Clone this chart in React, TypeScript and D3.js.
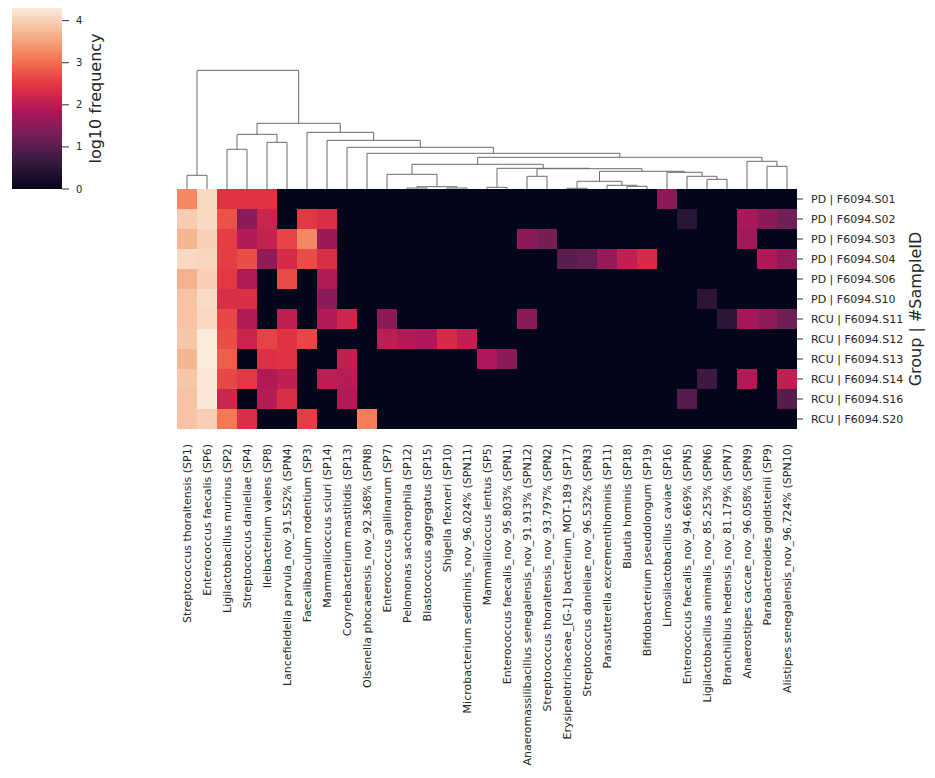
import React from "react";
import * as d3 from "d3";

const rowLabels = [
  "PD | F6094.S01",
  "PD | F6094.S02",
  "PD | F6094.S03",
  "PD | F6094.S04",
  "PD | F6094.S06",
  "PD | F6094.S10",
  "RCU | F6094.S11",
  "RCU | F6094.S12",
  "RCU | F6094.S13",
  "RCU | F6094.S14",
  "RCU | F6094.S16",
  "RCU | F6094.S20",
];

const colLabels = [
  "Streptococcus thoraltensis (SP1)",
  "Enterococcus faecalis (SP6)",
  "Ligilactobacillus murinus (SP2)",
  "Streptococcus danieliae (SP4)",
  "Ileibacterium valens (SP8)",
  "Lancefieldella parvula_nov_91.552% (SPN4)",
  "Faecalibaculum rodentium (SP3)",
  "Mammaliicoccus sciuri (SP14)",
  "Corynebacterium mastitidis (SP13)",
  "Olsenella phocaeensis_nov_92.368% (SPN8)",
  "Enterococcus gallinarum (SP7)",
  "Pelomonas saccharophila (SP12)",
  "Blastococcus aggregatus (SP15)",
  "Shigella flexneri (SP10)",
  "Microbacterium sediminis_nov_96.024% (SPN11)",
  "Mammaliicoccus lentus (SP5)",
  "Enterococcus faecalis_nov_95.803% (SPN1)",
  "Anaeromassilibacillus senegalensis_nov_91.913% (SPN12)",
  "Streptococcus thoraltensis_nov_93.797% (SPN2)",
  "Erysipelotrichaceae_[G-1] bacterium_MOT-189 (SP17)",
  "Streptococcus danieliae_nov_96.532% (SPN3)",
  "Parasutterella excrementihominis (SP11)",
  "Blautia hominis (SP18)",
  "Bifidobacterium pseudolongum (SP19)",
  "Limosilactobacillus caviae (SP16)",
  "Enterococcus faecalis_nov_94.669% (SPN5)",
  "Ligilactobacillus animalis_nov_85.253% (SPN6)",
  "Branchiibius hedensis_nov_81.179% (SPN7)",
  "Anaerostipes caccae_nov_96.058% (SPN9)",
  "Parabacteroides goldsteinii (SP9)",
  "Alistipes senegalensis_nov_96.724% (SPN10)",
];

// log10 frequency, rows x columns (column order as displayed)
const values: number[][] = [
  [3.25, 4.1, 2.45, 2.45, 2.45, 0, 0, 0, 0, 0, 0, 0, 0, 0, 0, 0, 0, 0, 0, 0, 0, 0, 0, 0, 1.5, 0, 0, 0, 0, 0, 0],
  [3.95, 4.1, 2.75, 1.5, 2.15, 0, 2.5, 2.35, 0, 0, 0, 0, 0, 0, 0, 0, 0, 0, 0, 0, 0, 0, 0, 0, 0, 0.45, 0, 0, 1.8, 1.5, 1.25],
  [3.7, 4.0, 2.55, 1.9, 2.1, 2.6, 3.25, 1.65, 0, 0, 0, 0, 0, 0, 0, 0, 0, 1.5, 1.3, 0, 0, 0, 0, 0, 0, 0, 0, 0, 1.7, 0, 0],
  [4.1, 4.05, 2.55, 2.7, 1.55, 2.3, 2.7, 2.35, 0, 0, 0, 0, 0, 0, 0, 0, 0, 0, 0, 0.98, 1.08, 1.6, 2.05, 2.3, 0, 0, 0, 0, 0, 1.88, 1.6],
  [3.65, 3.98, 2.5, 1.9, 0, 2.7, 0, 1.9, 0, 0, 0, 0, 0, 0, 0, 0, 0, 0, 0, 0, 0, 0, 0, 0, 0, 0, 0, 0, 0, 0, 0],
  [3.85, 4.13, 2.35, 2.35, 0, 0, 0, 1.5, 0, 0, 0, 0, 0, 0, 0, 0, 0, 0, 0, 0, 0, 0, 0, 0, 0, 0, 0.5, 0, 0, 0, 0],
  [3.85, 4.08, 2.65, 1.9, 0, 2.05, 0, 1.9, 2.2, 0, 1.5, 0, 0, 0, 0, 0, 0, 1.45, 0, 0, 0, 0, 0, 0, 0, 0, 0, 0.5, 1.75, 1.55, 1.2],
  [3.9, 4.3, 2.7, 2.15, 2.6, 2.45, 2.65, 0, 0, 0, 2.0, 1.9, 1.85, 2.3, 2.05, 0, 0, 0, 0, 0, 0, 0, 0, 0, 0, 0, 0, 0, 0, 0, 0],
  [3.7, 4.3, 2.85, 0, 2.4, 2.45, 0, 0, 2.05, 0, 0, 0, 0, 0, 0, 1.85, 1.5, 0, 0, 0, 0, 0, 0, 0, 0, 0, 0, 0, 0, 0, 0],
  [3.9, 4.25, 2.65, 2.5, 1.9, 2.05, 0, 2.0, 1.95, 0, 0, 0, 0, 0, 0, 0, 0, 0, 0, 0, 0, 0, 0, 0, 0, 0, 0.7, 0, 1.9, 0, 2.05],
  [3.85, 4.25, 2.2, 0, 1.95, 2.35, 0, 0, 1.9, 0, 0, 0, 0, 0, 0, 0, 0, 0, 0, 0, 0, 0, 0, 0, 0, 0.95, 0, 0, 0, 0, 0.95],
  [3.85, 3.98, 3.1, 2.35, 0, 0, 2.55, 0, 0, 3.15, 0, 0, 0, 0, 0, 0, 0, 0, 0, 0, 0, 0, 0, 0, 0, 0, 0, 0, 0, 0, 0],
];

// column linkage (scipy style): [childA, childB, distance]; ids >= 31 refer to earlier merges
const linkage: [number, number, number][] = [
  [0, 1, 1.37],
  [2, 3, 3.97],
  [4, 5, 4.67],
  [32, 33, 5.47],
  [11, 12, 0.1],
  [13, 14, 0.1],
  [35, 36, 0.23],
  [10, 37, 1.47],
  [15, 16, 0.17],
  [17, 18, 1.27],
  [19, 20, 0.07],
  [22, 23, 0.27],
  [21, 42, 0.37],
  [41, 43, 0.77],
  [26, 27, 0.97],
  [25, 45, 1.27],
  [24, 46, 1.67],
  [44, 47, 1.77],
  [40, 48, 2.03],
  [39, 49, 2.07],
  [38, 50, 2.47],
  [29, 30, 2.27],
  [28, 52, 2.77],
  [51, 53, 3.17],
  [9, 54, 3.57],
  [8, 55, 4.17],
  [7, 56, 4.87],
  [6, 57, 5.67],
  [34, 58, 6.57],
  [31, 59, 11.87],
];

const cbarTicks = [0, 1, 2, 3, 4];
const rocket = ["#03051a", "#35193e", "#701f57", "#ad1759", "#e13342", "#f37651", "#f6b48f", "#faebdd"];

const FONT = "DejaVu Sans, sans-serif";
const TEXT = "#262626";

export default function App() {
  const W = 935;
  const H = 778;
  const hmLeft = 177, hmRight = 797, hmTop = 189, hmBottom = 429;

  const x = d3.scaleBand<string>().domain(colLabels).range([hmLeft, hmRight]);
  const y = d3.scaleBand<string>().domain(rowLabels).range([hmTop, hmBottom]);
  const vmax = d3.max(values.flat()) as number;
  const interp = d3.piecewise(d3.interpolateRgb, rocket);
  const color = d3.scaleSequential(interp).domain([0, vmax]);

  // dendrogram
  const n = colLabels.length;
  const maxH = d3.max(linkage, (d) => d[2]) as number;
  const yD = d3.scaleLinear().domain([0, maxH * 1.05]).range([hmTop, 64.4]);
  const nodeX: number[] = colLabels.map((c) => (x(c) as number) + x.bandwidth() / 2);
  const nodeH: number[] = colLabels.map(() => 0);
  const dendPaths: string[] = [];
  linkage.forEach(([a, b, h]) => {
    const xa = nodeX[a], xb = nodeX[b];
    const p = d3.path();
    p.moveTo(xa, yD(nodeH[a]));
    p.lineTo(xa, yD(h));
    p.lineTo(xb, yD(h));
    p.lineTo(xb, yD(nodeH[b]));
    dendPaths.push(p.toString());
    nodeX.push((xa + xb) / 2);
    nodeH.push(h);
  });

  // colorbar
  const cbLeft = 12, cbRight = 62, cbTop = 8, cbBottom = 189;
  const cy = d3.scaleLinear().domain([0, vmax]).range([cbBottom, cbTop]);
  const stops = d3.range(0, 1.0001, 0.02);

  return (
    <svg width={W} height={H} style={{ position: "absolute", left: 0, top: 0, background: "#fff" }}>
      <defs>
        <linearGradient id="cbar" x1="0" y1="1" x2="0" y2="0">
          {stops.map((t) => (
            <stop key={t} offset={t} stopColor={interp(t)} />
          ))}
        </linearGradient>
      </defs>

      {/* heatmap */}
      <g shapeRendering="crispEdges">
        {values.map((row, ri) =>
          row.map((v, ci) => (
            <rect
              key={`${ri}-${ci}`}
              x={x(colLabels[ci])}
              y={y(rowLabels[ri])}
              width={x.bandwidth()}
              height={y.bandwidth()}
              fill={color(v)}
            />
          ))
        )}
      </g>

      {/* dendrogram */}
      <g fill="none" stroke="#6b6b6b" strokeWidth={1}>
        {dendPaths.map((d, i) => (
          <path key={i} d={d} />
        ))}
      </g>

      {/* row ticks + labels */}
      <g fontFamily={FONT} fontSize={11} fill={TEXT}>
        {rowLabels.map((r) => {
          const cyv = (y(r) as number) + y.bandwidth() / 2;
          return (
            <g key={r}>
              <line x1={hmRight} x2={hmRight + 6} y1={cyv} y2={cyv} stroke="#333" strokeWidth={1} />
              <text x={hmRight + 14} y={cyv} dominantBaseline="central">
                {r}
              </text>
            </g>
          );
        })}
      </g>

      {/* column labels */}
      <g fontFamily={FONT} fontSize={11} fill={TEXT}>
        {colLabels.map((c) => {
          const cx = (x(c) as number) + x.bandwidth() / 2;
          return (
            <text
              key={c}
              transform={`translate(${cx},${hmBottom + 15}) rotate(-90)`}
              textAnchor="end"
              dominantBaseline="central"
            >
              {c}
            </text>
          );
        })}
      </g>

      {/* y axis title */}
      <text
        transform={`translate(915,${(hmTop + hmBottom) / 2}) rotate(-90)`}
        textAnchor="middle"
        dominantBaseline="central"
        fontFamily={FONT}
        fontSize={16}
        fill={TEXT}
      >
        Group | #SampleID
      </text>

      {/* colorbar */}
      <rect x={cbLeft} y={cbTop} width={cbRight - cbLeft} height={cbBottom - cbTop} fill="url(#cbar)" />
      <g fontFamily={FONT} fontSize={10} fill={TEXT}>
        {cbarTicks.map((t) => (
          <g key={t}>
            <line x1={cbRight} x2={cbRight + 7} y1={cy(t)} y2={cy(t)} stroke="#333" strokeWidth={1} />
            <text x={cbRight + 14} y={cy(t)} dominantBaseline="central">
              {t}
            </text>
          </g>
        ))}
      </g>
      <text
        transform={`translate(95,${(cbTop + cbBottom) / 2}) rotate(-90)`}
        textAnchor="middle"
        dominantBaseline="central"
        fontFamily={FONT}
        fontSize={16}
        fill={TEXT}
      >
        log10 frequency
      </text>
    </svg>
  );
}
